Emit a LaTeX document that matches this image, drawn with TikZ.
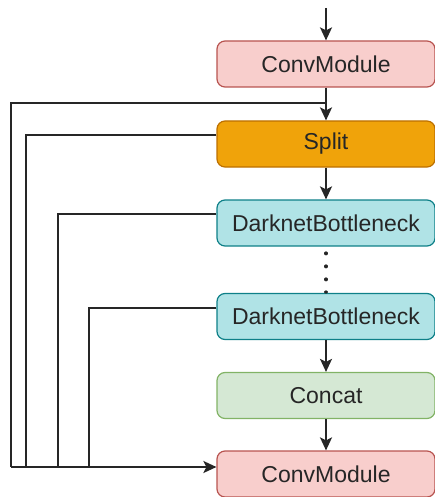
\documentclass[tikz,border=0pt]{standalone}
\usepackage{fontspec}
\setmainfont{Liberation Sans}
\usetikzlibrary{arrows.meta}
\definecolor{pinkf}{HTML}{F8CECC}\definecolor{pinkd}{HTML}{B85450}
\definecolor{orf}{HTML}{F0A30A}\definecolor{ord}{HTML}{BD7000}
\definecolor{cyf}{HTML}{B0E3E6}\definecolor{cyd}{HTML}{0E8088}
\definecolor{grf}{HTML}{D5E8D4}\definecolor{grd}{HTML}{82B366}
\definecolor{ln}{HTML}{262626}
\begin{document}
\begin{tikzpicture}[x=1pt,y=-1pt,
  box/.style={draw, line width=1.2pt, rounded corners=8pt, minimum width=218pt, minimum height=46pt, inner sep=0pt, font=\fontsize{23}{26}\selectfont, text=black!85},
  conn/.style={draw=ln, line width=1.8pt},
  arr/.style={conn, -{Stealth[length=13pt,width=12pt,inset=3pt]}}]
\useasboundingbox (0,0) rectangle (435,497);
\node[box, fill=pinkf, draw=pinkd] (cm1) at (326,64) {ConvModule};
\node[box, fill=orf, draw=ord] (split) at (326,144) {Split};
\node[box, fill=cyf, draw=cyd] (db1) at (326,223) {DarknetBottleneck};
\node[box, fill=cyf, draw=cyd] (db2) at (326,316.5) {DarknetBottleneck};
\node[box, fill=grf, draw=grd] (cat) at (326,395.5) {Concat};
\node[box, fill=pinkf, draw=pinkd] (cm2) at (326,474) {ConvModule};
\coordinate (in) at (326,8);
\coordinate (j) at (326,103);
\coordinate (d1) at (326,253);
\coordinate (d2) at (326,292);
\draw[arr] (in) -- (cm1.north);
\draw[arr] (cm1.south) -- (split.north);
\draw[arr] (split.south) -- (db1.north);
\draw[draw=ln, line width=3.2pt, dash pattern=on 0.8pt off 12.2pt, line cap=round] (d1) -- (d2);
\draw[arr] (db2.south) -- (cat.north);
\draw[arr] (cat.south) -- (cm2.north);
\draw[conn] (j) -- (11,103) -- (11,467);
\draw[conn] (split.west |- 0,135) -- (26,135) -- (26,467);
\draw[conn] (db1.west |- 0,214) -- (58,214) -- (58,467);
\draw[conn] (db2.west |- 0,308) -- (89,308) -- (89,467);
\draw[arr] (11,467) -- (cm2.west |- 0,467);
\end{tikzpicture}
\end{document}
